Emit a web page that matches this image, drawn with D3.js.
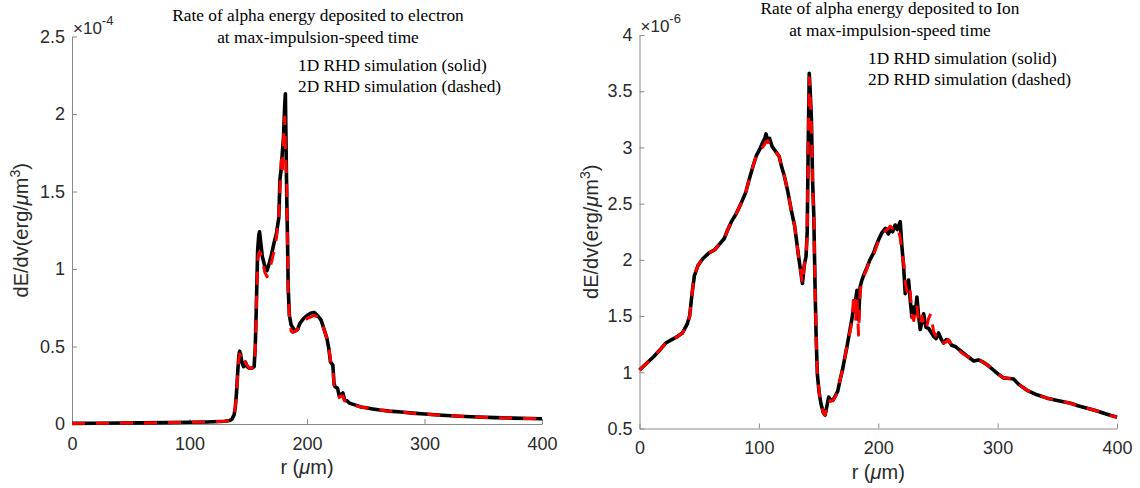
<!DOCTYPE html>
<html><head><meta charset="utf-8">
<script src="https://cdn.jsdelivr.net/npm/d3@7"></script>
<style>body{margin:0;background:#fff} svg{display:block}</style>
</head><body><svg id="c" width="1140" height="488"></svg>
<script>
// ---------- Data: electron panel (values x 1e-4) ----------
const rE = [0,20,40,60,80,100,115,125,130,134,
  136,138,139,140,141,142,142.7,143.5,144.5,146,
  147.5,149,151,153,155,156,157,158,159,159.6,
  160.5,162,164,166,168,170,172,174,176,177,
  178,179,180,181,181.6,182.2,182.8,183.4,184,185,
  186.5,188,190,192,194,197,200,203,206,209,
  212,215,217,218.5,220,221,222,223,224,226,
  227.5,229,230.5,232,234,236,238,242,246,250,
  256,262,270,280,290,300,315,330,345,360,
  375,390,400];
const e1D = [0.004,0.005,0.006,0.007,0.009,0.011,0.013,0.016,0.018,0.022,
  0.03,0.06,0.11,0.2,0.33,0.44,0.47,0.45,0.40,0.37,
  0.40,0.37,0.36,0.36,0.37,0.50,0.80,1.12,1.22,1.24,
  1.18,1.08,1.02,0.99,1.04,1.10,1.17,1.23,1.33,1.58,
  1.64,1.75,1.85,2.05,2.13,1.78,1.45,1.20,0.88,0.70,
  0.64,0.62,0.60,0.61,0.65,0.68,0.70,0.715,0.72,0.70,
  0.67,0.60,0.55,0.49,0.40,0.39,0.38,0.26,0.24,0.23,
  0.18,0.19,0.20,0.155,0.15,0.135,0.13,0.12,0.11,0.105,
  0.097,0.09,0.083,0.077,0.07,0.064,0.056,0.05,0.045,0.041,
  0.038,0.035,0.034];
const e2D = [0.004,0.005,0.006,0.007,0.009,0.011,0.013,0.016,0.018,0.022,
  0.03,0.06,0.11,0.2,0.32,0.42,0.45,0.44,0.40,0.38,
  0.40,0.38,0.36,0.36,0.37,0.48,0.78,1.05,1.10,1.11,
  1.10,1.07,0.98,0.95,1.00,1.05,1.12,1.20,1.36,1.52,
  1.70,1.62,1.85,1.98,1.80,1.66,1.55,1.15,0.86,0.70,
  0.60,0.59,0.60,0.61,0.63,0.66,0.68,0.69,0.70,0.69,
  0.66,0.60,0.55,0.50,0.41,0.39,0.37,0.25,0.23,0.22,
  0.17,0.18,0.18,0.15,0.145,0.13,0.125,0.118,0.11,0.105,
  0.097,0.09,0.083,0.077,0.07,0.064,0.056,0.05,0.045,0.041,
  0.038,0.035,0.034];

// ---------- Data: ion panel (values x 1e-6) ----------
const rI = [0,6,12,18,22,27,32,36,40,42,
  44,46,49,53,58,63,67,71,74,77,
  81,85,89,92,95,98,101,103,105,106,
  107.5,109,111,113,115,117,119,121,124,127,
  130,133,135,136.5,138,139.5,140.5,141.3,142.2,143,
  144,145,146,147,148,149,150.5,152,154,155.5,
  157,158.5,160,162,164,166,168,170,172,174,
  176,178,179.5,181,182.2,183.5,184.8,186.3,188,190.5,
  193,196,198,200.3,203,206,208.5,210,212,214.2,
  216,218.4,219.8,221.2,222.6,224,225.4,226.8,228.2,229.8,
  231,232.4,233.8,235.2,236.6,238,240,242.2,244,246.4,
  248.5,250.5,252.5,254.7,257,259,261.5,264.5,268,271.5,
  275,280,284,288,292,296.6,301,305,310,313.4,
  318,324.6,333,341.4,350,361,368,375,382,389,
  395,400];
const i1D = [1.02,1.08,1.14,1.21,1.26,1.29,1.32,1.35,1.43,1.50,
  1.70,1.86,1.95,2.01,2.06,2.09,2.14,2.19,2.27,2.34,
  2.41,2.50,2.60,2.72,2.83,2.93,2.99,3.04,3.08,3.12,
  3.05,3.08,3.01,2.98,2.95,2.92,2.83,2.76,2.62,2.45,
  2.30,2.05,1.90,1.79,1.95,2.03,2.25,3.00,3.66,3.50,
  3.25,2.70,2.40,1.80,1.30,0.98,0.82,0.72,0.64,0.62,
  0.70,0.78,0.76,0.75,0.79,0.83,0.93,1.02,1.13,1.24,
  1.36,1.48,1.58,1.64,1.73,1.47,1.76,1.82,1.87,1.93,
  2.00,2.06,2.12,2.18,2.24,2.28,2.23,2.27,2.25,2.31,
  2.27,2.34,2.12,1.95,1.70,1.76,1.82,1.64,1.49,1.58,
  1.52,1.67,1.50,1.38,1.45,1.52,1.40,1.39,1.36,1.32,
  1.30,1.35,1.30,1.26,1.29,1.28,1.24,1.23,1.20,1.17,
  1.14,1.10,1.11,1.09,1.06,1.02,0.98,0.95,0.945,0.94,
  0.89,0.84,0.80,0.77,0.75,0.725,0.70,0.68,0.66,0.635,
  0.615,0.60];
const i2D = [1.02,1.08,1.14,1.21,1.26,1.29,1.32,1.35,1.43,1.50,
  1.70,1.86,1.95,2.01,2.06,2.09,2.14,2.19,2.27,2.34,
  2.41,2.50,2.60,2.72,2.83,2.93,2.99,3.00,3.03,3.05,
  3.06,3.02,3.00,2.97,2.95,2.92,2.83,2.76,2.62,2.45,
  2.30,2.05,1.90,1.79,1.95,2.03,2.25,3.00,3.62,3.45,
  3.20,2.70,2.40,1.80,1.30,0.98,0.82,0.72,0.64,0.62,
  0.70,0.76,0.74,0.75,0.78,0.83,0.93,1.02,1.13,1.24,
  1.34,1.45,1.70,1.45,1.66,1.33,1.72,1.80,1.86,1.92,
  2.00,2.04,2.10,2.17,2.22,2.26,2.28,2.30,2.28,2.30,
  2.30,2.20,2.05,1.98,1.80,1.72,1.66,1.72,1.50,1.46,
  1.55,1.60,1.42,1.42,1.50,1.42,1.38,1.48,1.52,1.36,
  1.32,1.32,1.33,1.26,1.27,1.29,1.24,1.23,1.19,1.16,
  1.14,1.10,1.11,1.09,1.06,1.02,0.98,0.95,0.945,0.94,
  0.89,0.84,0.80,0.77,0.75,0.725,0.70,0.68,0.66,0.635,
  0.615,0.60];

// ---------- Ticks & texts ----------
const xTicks = [0,100,200,300,400];
const eTicks = [0,0.5,1,1.5,2,2.5];
const iTicks = [0.5,1,1.5,2,2.5,3,3.5,4];
const titleE = ["Rate of alpha energy deposited to electron","at max-impulsion-speed time"];
const titleI = ["Rate of alpha energy deposited to Ion","at max-impulsion-speed time"];
const legendLines = ["1D RHD simulation (solid)","2D RHD simulation (dashed)"];

const svg = d3.select("#c");
const sans = "'Liberation Sans', Arial, Helvetica, sans-serif";
const serif = "'Liberation Serif', 'Times New Roman', serif";
const txt = "#2a2a2a";

function panel(o) {
  const x = d3.scaleLinear().domain([0,400]).range([o.x0, o.x1]);
  const y = d3.scaleLinear().domain(o.ydom).range([o.yb, o.yt]);
  const g = svg.append("g");

  const ax = g.append("g").attr("transform", `translate(0,${o.yb})`)
    .call(d3.axisBottom(x).tickValues(xTicks).tickSize(-5).tickSizeOuter(0).tickPadding(13).tickFormat(d => String(d)));
  const ay = g.append("g").attr("transform", `translate(${o.x0},0)`)
    .call(d3.axisLeft(y).tickValues(o.yticks).tickSize(-5).tickSizeOuter(0).tickPadding(7).tickFormat(d => String(d)));
  [ax, ay].forEach(a => {
    a.select(".domain").attr("stroke", "#8a8a8a").attr("stroke-width", 1);
    a.selectAll(".tick line").attr("stroke", "#8a8a8a");
    a.selectAll(".tick text").attr("fill", txt).style("font-family", sans).style("font-size", "18px");
  });

  const line = d3.line().x((d,i) => x(o.r[i])).y(d => y(d));
  g.append("path").attr("d", line(o.s1)).attr("fill","none").attr("stroke","#000")
    .attr("stroke-width",3.6).attr("stroke-linejoin","round");
  g.append("path").attr("d", line(o.s2)).attr("fill","none").attr("stroke","#ff0000")
    .attr("stroke-width",3).attr("stroke-dasharray","13 11").attr("stroke-linejoin","round");

  // exponent
  const ex = g.append("text").attr("x", o.x0 + 1).attr("y", o.yt - 3)
    .attr("fill", txt).style("font-family", sans).style("font-size","17px");
  ex.append("tspan").text("\u00d710");
  ex.append("tspan").attr("dy", -9).style("font-size","13px").text(o.exp);

  // y label
  const yl = g.append("text").attr("transform", `translate(${o.ylx},${(o.yb+o.yt)/2}) rotate(-90)`)
    .attr("text-anchor","middle").attr("fill", txt).style("font-family", sans).style("font-size","20px");
  yl.append("tspan").text("dE/dv(erg/");
  yl.append("tspan").style("font-style","italic").text("\u03bc");
  yl.append("tspan").text("m");
  yl.append("tspan").attr("dy", -8).style("font-size","14px").text("3");
  yl.append("tspan").attr("dy", 8).text(")");

  // x label
  const xl = g.append("text").attr("x", (o.x0+o.x1)/2).attr("y", o.yb + 50)
    .attr("text-anchor","middle").attr("fill", txt).style("font-family", sans).style("font-size","20px");
  xl.append("tspan").text("r (");
  xl.append("tspan").style("font-style","italic").text("\u03bc");
  xl.append("tspan").text("m)");

  // title
  o.title.forEach((t,i) => g.append("text").attr("x", o.tx).attr("y", o.ty + i*22)
    .attr("text-anchor","middle").attr("fill","#000").style("font-family", serif).style("font-size","17.3px").text(t));
  // legend text
  legendLines.forEach((t,i) => g.append("text").attr("x", o.lx).attr("y", o.ly + i*21)
    .attr("fill","#000").style("font-family", serif).style("font-size","17.3px").text(t));
}

panel({x0:72, x1:542, yb:424, yt:36.5, ydom:[0,2.5], yticks:eTicks, r:rE, s1:e1D, s2:e2D,
  exp:"-4", ylx:28, title:titleE, tx:318, ty:21, lx:298, ly:71});
panel({x0:639.5, x1:1117, yb:428.5, yt:35, ydom:[0.5,4], yticks:iTicks, r:rI, s1:i1D, s2:i2D,
  exp:"-6", ylx:598, title:titleI, tx:890, ty:13.5, lx:868, ly:64});
</script>
</body></html>
